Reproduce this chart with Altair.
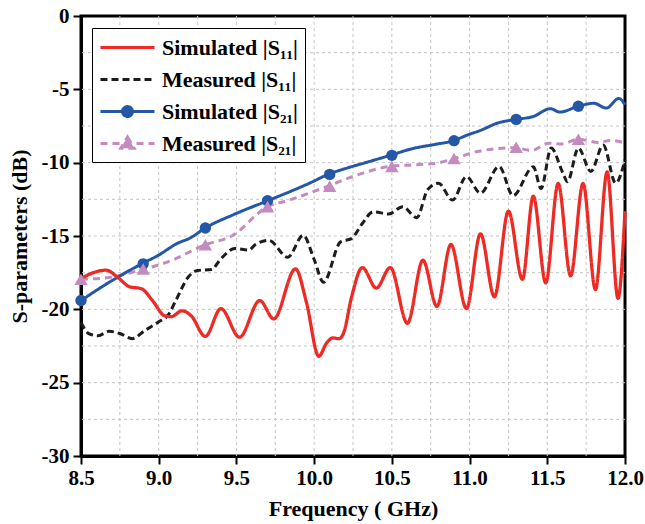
import altair as alt
import pandas as pd

SERIES = ["Simulated |S₁₁|", "Measured |S₁₁|", "Simulated |S₂₁|", "Measured |S₂₁|"]
COLORS = ["#ee2a24", "#1c1c1c", "#2457a6", "#c38bc0"]
DASHES = [[1, 0], [7, 4], [1, 0], [7, 5]]

# Simulated |S11|
sim11_x = [8.50, 8.58, 8.66, 8.74, 8.81, 8.89, 8.96, 9.04, 9.08, 9.15, 9.21, 9.30, 9.40, 9.52,
           9.65, 9.74, 9.88, 9.95, 10.03, 10.08, 10.12, 10.16, 10.19, 10.24, 10.31, 10.40, 10.49,
           10.60, 10.70, 10.79, 10.88, 10.98, 11.07, 11.16, 11.25, 11.34, 11.41, 11.49, 11.57,
           11.65, 11.73, 11.81, 11.885, 11.955, 12.0]
sim11_y = [-17.9, -17.5, -17.33, -17.85, -18.45, -18.6, -19.4, -20.45, -20.5, -20.1, -20.45, -21.85,
           -19.95, -21.9, -19.4, -20.65, -17.24, -19.5, -23.2, -22.3, -21.95, -22.0, -21.6, -19.2,
           -17.15, -18.55, -17.15, -20.95, -16.65, -19.8, -15.58, -19.95, -14.85, -19.15, -13.3,
           -17.95, -12.28, -18.2, -11.42, -17.72, -11.42, -18.65, -10.63, -19.25, -13.3]

# Measured |S11|
meas11_x = [8.50, 8.55, 8.61, 8.68, 8.75, 8.83, 8.91, 9.00, 9.06, 9.11, 9.19, 9.25, 9.34, 9.40,
            9.49, 9.58, 9.62, 9.71, 9.83, 9.93, 10.00, 10.06, 10.17, 10.24, 10.31, 10.38, 10.48,
            10.57, 10.66, 10.73, 10.80, 10.89, 10.98, 11.07, 11.19, 11.28, 11.41, 11.46, 11.525,
            11.60, 11.63, 11.70, 11.78, 11.86, 11.94, 12.0]
meas11_y = [-20.9, -21.65, -21.8, -21.5, -21.65, -22.0, -21.45, -20.85, -20.4, -19.4, -17.8, -17.35,
            -17.28, -16.55, -15.85, -15.96, -15.6, -15.3, -16.45, -14.95, -16.6, -18.15, -15.4,
            -15.18, -14.15, -13.35, -13.5, -13.0, -13.75, -11.85, -11.4, -12.55, -10.95, -12.08,
            -10.26, -12.25, -10.28, -11.76, -9.0, -10.7, -11.3, -9.0, -10.6, -8.8, -11.4, -9.8]

# Simulated |S21|
sim21_x = [8.50, 8.69, 8.89, 9.00, 9.12, 9.20, 9.30, 9.48, 9.70, 9.85, 9.97, 10.09, 10.22, 10.33,
           10.49, 10.63, 10.78, 10.89, 10.99, 11.07, 11.18, 11.30, 11.41, 11.52, 11.58, 11.70,
           11.80, 11.88, 11.96, 12.0]
sim21_y = [-19.4, -18.1, -16.9, -16.3, -15.5, -15.15, -14.45, -13.55, -12.6, -11.95, -11.4, -10.8,
           -10.34, -10.0, -9.5, -9.05, -8.75, -8.52, -8.1, -7.8, -7.3, -7.05, -6.85, -6.32, -6.55,
           -6.15, -5.95, -6.28, -5.62, -6.05]

# Measured |S21|
meas21_x = [8.50, 8.68, 8.89, 9.06, 9.30, 9.47, 9.70, 9.84, 10.09, 10.26, 10.49, 10.63, 10.78,
            10.90, 11.05, 11.29, 11.40, 11.51, 11.59, 11.70, 11.83, 11.91, 12.0]
meas21_y = [-17.95, -17.83, -17.3, -16.76, -15.6, -15.0, -13.0, -12.55, -11.6, -10.9, -10.25,
            -10.15, -10.05, -9.72, -9.24, -8.98, -9.17, -8.67, -8.72, -8.4, -8.62, -8.48, -8.67]

# Markers
circ_x = [8.5, 8.9, 9.3, 9.7, 10.1, 10.5, 10.9, 11.3, 11.7]
circ_y = [-19.4, -16.9, -14.45, -12.6, -10.8, -9.5, -8.5, -7.05, -6.15]
tri_x = [8.5, 8.9, 9.3, 9.7, 10.1, 10.5, 10.9, 11.3, 11.7]
tri_y = [-17.95, -17.25, -15.6, -13.0, -11.6, -10.25, -9.72, -8.95, -8.4]

x_ticks = [8.5, 9.0, 9.5, 10.0, 10.5, 11.0, 11.5, 12.0]
y_ticks = [-30, -25, -20, -15, -10, -5, 0]
grid_x = [8.75, 9.0, 9.25, 9.5, 9.75, 10.0, 10.25, 10.5, 10.75, 11.0, 11.25, 11.5, 11.75]
grid_y = [-27.5, -25, -22.5, -20, -17.5, -15, -12.5, -10, -7.5, -5, -2.5]

# legend glyphs: a long stroke (+ marker) in symbol units
LEGEND_SHAPES = [
    "M-2.5,0L2.5,0",
    "M-2.5,0L2.5,0",
    "M-2.5,0L2.5,0M-0.46,0A0.46,0.46,0,1,0,0.46,0A0.46,0.46,0,1,0,-0.46,0Z",
    "M-2.5,0L2.5,0M0,-0.6L0.62,0.45L-0.62,0.45Z",
]

FONT = "Liberation Serif, Times New Roman, serif"
xscale = alt.Scale(domain=[8.5, 12.0], nice=False, zero=False)
yscale = alt.Scale(domain=[-30, 0], nice=False, zero=False)

x_enc = alt.X("f:Q", scale=xscale, axis=alt.Axis(
    values=x_ticks, labelExpr="format(datum.value, '.1f')", title="Frequency ( GHz)",
    labelPadding=3, titlePadding=10))
y_enc = alt.Y("s:Q", scale=yscale, axis=alt.Axis(
    values=y_ticks, labelExpr="'' + datum.value", title="S-parameters (dB)",
    labelPadding=4, titlePadding=10))

legend = alt.Legend(
    title=None, orient="none", legendX=11, legendY=12, symbolSize=467,
    symbolStrokeWidth=3, labelFont=FONT, labelFontWeight="bold", labelFontSize=22,
    labelColor="black", labelOffset=22, rowPadding=8, padding=7,
    strokeColor="black", fillColor="white", labelLimit=400, symbolOffset=16,
)

gx_df = pd.DataFrame({"g": grid_x})
gy_df = pd.DataFrame({"g": grid_y})
grid_v = alt.Chart(gx_df).mark_rule(color="#c4c4c4", strokeDash=[3, 3], strokeWidth=1).encode(
    x=alt.X("g:Q", scale=xscale))
grid_h = alt.Chart(gy_df).mark_rule(color="#c4c4c4", strokeDash=[3, 3], strokeWidth=1).encode(
    y=alt.Y("g:Q", scale=yscale))


def line_layer(xs, ys, color, dash, width=3):
    df = pd.DataFrame({"f": xs, "s": ys})
    return alt.Chart(df).mark_line(
        strokeWidth=width, interpolate="monotone", color=color, strokeDash=dash
    ).encode(x=x_enc, y=y_enc)


l_meas11 = line_layer(meas11_x, meas11_y, COLORS[1], DASHES[1])
l_meas21 = line_layer(meas21_x, meas21_y, COLORS[3], DASHES[3])
l_sim21 = line_layer(sim21_x, sim21_y, COLORS[2], DASHES[2])
l_sim11 = line_layer(sim11_x, sim11_y, COLORS[0], DASHES[0], 3.3)

circles = alt.Chart(pd.DataFrame({"f": circ_x, "s": circ_y})).mark_point(
    shape="circle", filled=True, opacity=1, size=130, color=COLORS[2]).encode(x="f:Q", y="s:Q")
triangles = alt.Chart(pd.DataFrame({"f": tri_x, "s": tri_y})).mark_point(
    shape="triangle-up", filled=True, opacity=1, size=180, color=COLORS[3]).encode(x="f:Q", y="s:Q")

leg_df = pd.DataFrame({"f": [10.0] * 4, "s": [-10.0] * 4, "series": SERIES})
leg_layer = alt.Chart(leg_df).transform_filter("false").mark_point(filled=True, opacity=1).encode(
    x="f:Q", y="s:Q",
    color=alt.Color("series:N", scale=alt.Scale(domain=SERIES, range=COLORS), legend=legend),
    stroke=alt.Stroke("series:N", scale=alt.Scale(domain=SERIES, range=COLORS), legend=legend),
    strokeDash=alt.StrokeDash("series:N", scale=alt.Scale(domain=SERIES, range=DASHES), legend=legend),
    shape=alt.Shape("series:N", scale=alt.Scale(domain=SERIES, range=LEGEND_SHAPES), legend=legend),
)

chart = alt.layer(grid_v, grid_h, l_meas11, l_meas21, l_sim21, l_sim11, circles, triangles,
                  leg_layer).properties(
    width=544, height=440,
    autosize=alt.AutoSizeParams(type="none"),
    padding={"left": 81, "top": 16, "right": 20, "bottom": 68},
).configure_view(stroke="black", strokeWidth=3).configure_axis(
    grid=False, labelFont=FONT, labelFontWeight="bold", labelFontSize=21, labelColor="black",
    titleFont=FONT, titleFontWeight="bold", titleFontSize=22, titleColor="black",
    domainColor="black", domainWidth=3, tickColor="black", tickWidth=2, tickSize=8,
    labelFlush=False, labelOverlap=False,
)

chart.save("out.html", embed_options={"renderer": "svg", "actions": False})
